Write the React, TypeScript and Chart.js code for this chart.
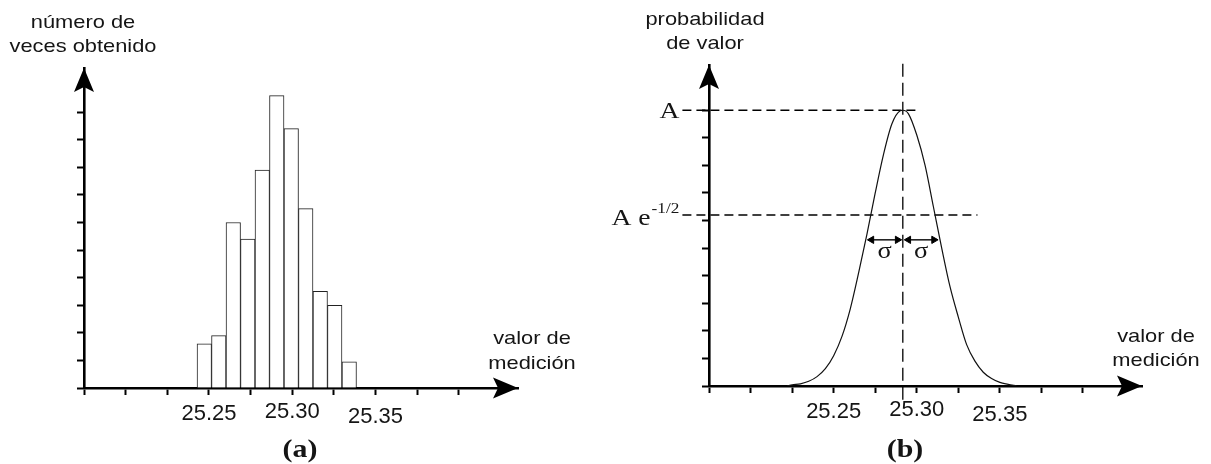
import React, { useEffect, useRef } from 'react';
import { Chart, registerables } from 'chart.js';

Chart.register(...registerables);

// ---------- shared axis data ----------
const X_MIN = 25.175;
const X_MAX = 25.4355;
const X_TICKS = [25.175, 25.2, 25.225, 25.25, 25.275, 25.3, 25.325, 25.35, 25.375, 25.4];
const X_TICK_LABELS = ['', '', '', '25.25', '', '25.30', '', '25.35', '', ''];
const Y_TICKS = [0, 1, 2, 3, 4, 5, 6, 7, 8, 9, 10];

// ---------- (a) histogram ----------
const BIN_CENTERS = [25.2472, 25.2559, 25.2646, 25.2733, 25.282, 25.2907, 25.2994, 25.3081, 25.3168, 25.3255, 25.3342];
const BIN_COUNTS = [1.6, 1.9, 6.0, 5.4, 7.9, 10.6, 9.4, 6.5, 3.5, 3.0, 0.95];
const HIST_Y_MAX = 11.6;

// ---------- (b) probability curve ----------
const CURVE_X = [25.222, 25.225, 25.23, 25.235, 25.24, 25.245, 25.25, 25.255, 25.26, 25.265, 25.27, 25.275, 25.28, 25.285, 25.29, 25.2916, 25.295, 25.3, 25.305, 25.31, 25.315, 25.32, 25.325, 25.33, 25.335, 25.34, 25.345, 25.35, 25.355, 25.36];
const CURVE_Y = [0.0, 0.04, 0.08, 0.17, 0.34, 0.63, 1.1, 1.8, 2.8, 4.1, 5.5, 7.0, 8.4, 9.5, 9.98, 10.0, 9.87, 9.1, 8.0, 6.5, 5.0, 3.6, 2.5, 1.5, 0.9, 0.5, 0.27, 0.13, 0.06, 0.0];
const GAUSS_Y_MAX = 11.64;
const PEAK_X = 25.2916;
const A_LEVEL = 10;
const A_HALF_LEVEL = 6.2;
const A_LINE_X = [25.159, 25.3016];
const A_HALF_LINE_X = [25.159, 25.3365];
const PEAK_LINE_Y = [-0.5, 11.75];
const SIGMA_Y = 5.3;
const SIGMA_LEFT_X = [25.2728, 25.2884];
const SIGMA_RIGHT_X = [25.295, 25.3103];

const SANS = '"Liberation Sans", Arial, sans-serif';
const SERIF = '"Liberation Serif", "Times New Roman", serif';
const INK = '#151515';
// per-label vertical stagger of the tick texts (line-height multipliers)
const TICK_LINE_HEIGHT = [1.2, 1.2, 1.2, 1.18, 1.2, 1.0, 1.2, 1.41, 1.2, 1.2];

function drawText(ctx: CanvasRenderingContext2D, text: string, x: number, y: number, font: string, align: CanvasTextAlign = 'center', sx = 1.15) {
  ctx.save();
  ctx.font = font;
  ctx.fillStyle = INK;
  ctx.textAlign = align;
  ctx.textBaseline = 'middle';
  ctx.translate(x, y);
  ctx.scale(sx, 1);
  ctx.fillText(text, 0, 0);
  ctx.restore();
}

function arrowRight(ctx: CanvasRenderingContext2D, tipX: number, y: number) {
  const len = 25, half = 10.5, notch = 5;
  ctx.beginPath();
  ctx.moveTo(tipX, y);
  ctx.lineTo(tipX - len, y - half);
  ctx.lineTo(tipX - len + notch, y);
  ctx.lineTo(tipX - len, y + half);
  ctx.closePath();
  ctx.fill();
}

function arrowUp(ctx: CanvasRenderingContext2D, x: number, tipY: number) {
  const len = 24, half = 10, notch = 5;
  ctx.beginPath();
  ctx.moveTo(x, tipY);
  ctx.lineTo(x - half, tipY + len);
  ctx.lineTo(x, tipY + len - notch);
  ctx.lineTo(x + half, tipY + len);
  ctx.closePath();
  ctx.fill();
}

function xScale(height: number) {
  return {
    type: 'linear',
    min: X_MIN,
    max: X_MAX,
    offset: false,
    afterBuildTicks: (s: any) => {
      s.ticks = X_TICKS.map((v) => ({ value: v }));
    },
    afterFit: (s: any) => {
      s.height = height;
    },
    border: { display: true, color: '#000', width: 2.6 },
    grid: { display: true, offset: false, drawOnChartArea: false, drawTicks: true, tickLength: 7, tickWidth: 2, tickColor: '#000' },
    ticks: {
      autoSkip: false,
      maxRotation: 0,
      minRotation: 0,
      padding: 6,
      color: INK,
      font: (c: any) => ({ family: SANS, size: 22, lineHeight: TICK_LINE_HEIGHT[c.index] ?? 1.2 }),
      callback: (_v: any, i: number) => X_TICK_LABELS[i],
    },
  };
}

function yScale(width: number, max: number) {
  return {
    type: 'linear',
    min: 0,
    max,
    afterBuildTicks: (s: any) => {
      s.ticks = Y_TICKS.map((v) => ({ value: v }));
    },
    afterFit: (s: any) => {
      s.width = width;
    },
    border: { display: true, color: '#000', width: 2.6 },
    grid: { display: true, drawOnChartArea: false, drawTicks: true, tickLength: 7, tickWidth: 2, tickColor: '#000' },
    ticks: { display: false },
  };
}

const histPlugin = {
  id: 'histDecor',
  afterDraw(chart: any) {
    const ctx = chart.ctx as CanvasRenderingContext2D;
    const a = chart.chartArea;
    ctx.save();
    ctx.fillStyle = '#000';
    arrowUp(ctx, a.left, a.top);
    arrowRight(ctx, a.right, a.bottom);
    ctx.restore();
    const f = `19px ${SANS}`;
    drawText(ctx, 'número de', 83, 23, f);
    drawText(ctx, 'veces obtenido', 83, 47, f);
    drawText(ctx, 'valor de', 532, 339, f);
    drawText(ctx, 'medición', 532, 364, f);
    drawText(ctx, '(a)', 300, 450, `bold 26px ${SERIF}`);
  },
};

const gaussPlugin = {
  id: 'gaussDecor',
  afterDraw(chart: any) {
    const ctx = chart.ctx as CanvasRenderingContext2D;
    const a = chart.chartArea;
    const xs = chart.scales.x;
    const ys = chart.scales.y;
    ctx.save();
    ctx.fillStyle = '#000';
    arrowUp(ctx, a.left, a.top);
    arrowRight(ctx, a.right, a.bottom);
    ctx.restore();
    const f = `19px ${SANS}`;
    drawText(ctx, 'probabilidad', 100, 20, f);
    drawText(ctx, 'de valor', 100, 44, f);
    drawText(ctx, 'valor de', 551, 337, f);
    drawText(ctx, 'medición', 551, 361, f);
    drawText(ctx, '(b)', 300, 450, `bold 26px ${SERIF}`);

    const right = xs.getPixelForValue(A_LINE_X[0]) - 3;
    drawText(ctx, 'A', right, ys.getPixelForValue(A_LEVEL) + 1, `24px ${SERIF}`, 'right');
    // A e^-1/2
    const yh = ys.getPixelForValue(A_HALF_LEVEL);
    ctx.save();
    ctx.font = `15px ${SERIF}`;
    const supW = ctx.measureText('-1/2').width * 1.15;
    ctx.restore();
    drawText(ctx, '-1/2', right, yh - 6, `15px ${SERIF}`, 'right');
    drawText(ctx, 'A e', right - supW - 1, yh + 4, `24px ${SERIF}`, 'right');

    const sy = ys.getPixelForValue(SIGMA_Y) + 12;
    const sl = (xs.getPixelForValue(SIGMA_LEFT_X[0]) + xs.getPixelForValue(SIGMA_LEFT_X[1])) / 2;
    const sr = (xs.getPixelForValue(SIGMA_RIGHT_X[0]) + xs.getPixelForValue(SIGMA_RIGHT_X[1])) / 2;
    drawText(ctx, 'σ', sl, sy, `23px ${SERIF}`);
    drawText(ctx, 'σ', sr, sy, `23px ${SERIF}`);
  },
};

const baseOptions = {
  responsive: false,
  animation: false,
  events: [],
  plugins: { legend: { display: false }, tooltip: { enabled: false }, title: { display: false } },
};

function dashed(points: { x: number; y: number }[], dash: number[]) {
  return {
    data: points,
    borderColor: '#000',
    borderWidth: 1.3,
    borderDash: dash,
    pointRadius: 0,
    fill: false,
    clip: false,
  };
}

function sigmaArrow(xs: number[]) {
  return {
    data: [
      { x: xs[0], y: SIGMA_Y },
      { x: xs[1], y: SIGMA_Y },
    ],
    borderColor: '#000',
    borderWidth: 1.4,
    pointStyle: 'triangle',
    pointRadius: 4.2,
    pointRotation: [270, 90],
    pointBackgroundColor: '#000',
    pointBorderColor: '#000',
    pointBorderWidth: 1,
    fill: false,
    clip: false,
  };
}

export default function App() {
  const leftRef = useRef<HTMLCanvasElement>(null);
  const rightRef = useRef<HTMLCanvasElement>(null);

  useEffect(() => {
    const histChart = new Chart(leftRef.current as HTMLCanvasElement, {
      type: 'bar',
      data: {
        datasets: [
          {
            data: BIN_CENTERS.map((x, i) => ({ x, y: BIN_COUNTS[i] })),
            backgroundColor: '#fff',
            borderColor: '#222',
            borderWidth: 1,
            barPercentage: 1,
            categoryPercentage: 1,
          },
        ],
      },
      options: {
        ...baseOptions,
        layout: { padding: { left: 0, top: 68, right: 87, bottom: 0 } },
        scales: { x: xScale(76), y: yScale(84, HIST_Y_MAX) },
      } as any,
      plugins: [histPlugin],
    } as any);

    const gaussChart = new Chart(rightRef.current as HTMLCanvasElement, {
      type: 'line',
      data: {
        datasets: [
          {
            data: CURVE_X.map((x, i) => ({ x, y: CURVE_Y[i] })),
            borderColor: '#111',
            borderWidth: 1.2,
            pointRadius: 0,
            cubicInterpolationMode: 'monotone',
            fill: false,
          },
          dashed([{ x: A_LINE_X[0], y: A_LEVEL }, { x: A_LINE_X[1], y: A_LEVEL }], [9, 5]),
          dashed([{ x: A_HALF_LINE_X[0], y: A_HALF_LEVEL }, { x: A_HALF_LINE_X[1], y: A_HALF_LEVEL }], [9, 5]),
          dashed([{ x: PEAK_X, y: PEAK_LINE_Y[0] }, { x: PEAK_X, y: PEAK_LINE_Y[1] }], [13, 6]),
          sigmaArrow(SIGMA_LEFT_X),
          sigmaArrow(SIGMA_RIGHT_X),
        ],
      },
      options: {
        ...baseOptions,
        layout: { padding: { left: 0, top: 65, right: 69, bottom: 0 } },
        scales: { x: xScale(78), y: yScale(104, GAUSS_Y_MAX) },
      } as any,
      plugins: [gaussPlugin],
    } as any);

    return () => {
      histChart.destroy();
      gaussChart.destroy();
    };
  }, []);

  return (
    <div style={{ position: 'absolute', left: 0, top: 0, width: 1211, height: 464, background: '#fff' }}>
      <canvas ref={leftRef} width={605} height={464} style={{ position: 'absolute', left: 0, top: 0 }} />
      <canvas ref={rightRef} width={606} height={464} style={{ position: 'absolute', left: 605, top: 0 }} />
    </div>
  );
}
